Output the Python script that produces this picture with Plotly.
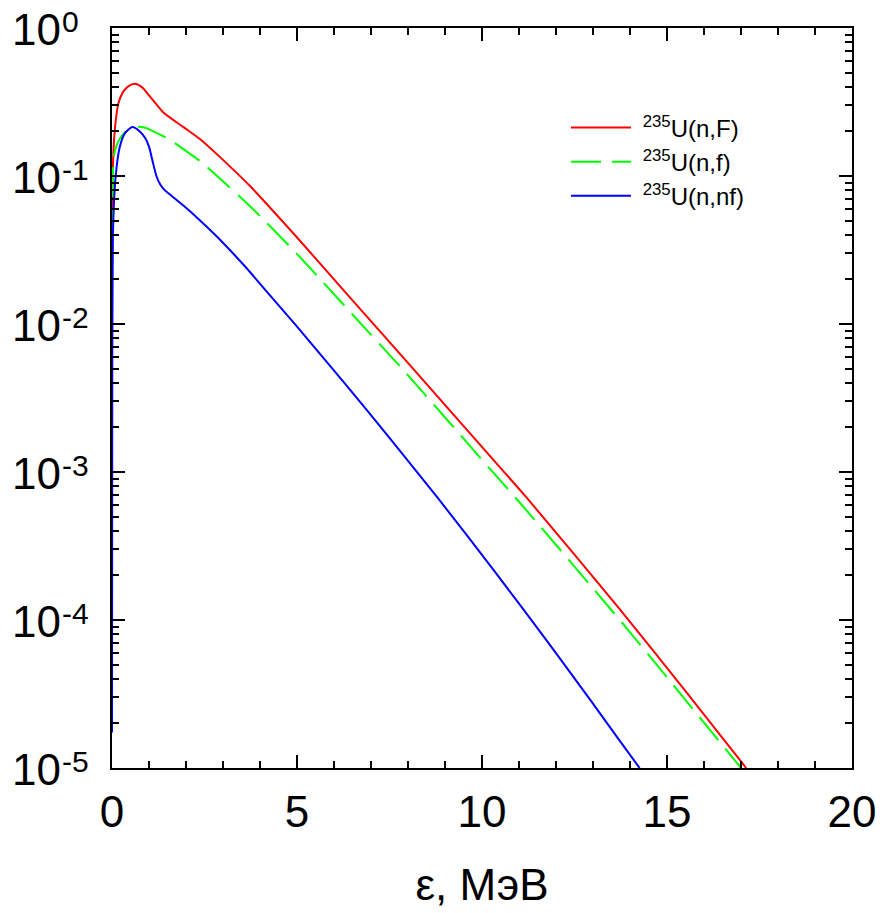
import math
import plotly.graph_objects as go

# Energy (MeV) and spectra
x_F = [0.0, 0.005, 0.03, 0.08, 0.17, 0.3, 0.45, 0.61, 0.8, 1.0, 1.15, 1.38, 1.93, 2.4, 2.84,
       3.73, 4.99, 6.5, 8.04, 10.51, 11.19, 13.7, 15.5, 17.14]
y_F = [2.0e-5, 0.03, 0.128, 0.21, 0.308, 0.37, 0.405, 0.42, 0.40, 0.351, 0.316, 0.270, 0.214,
       0.176, 0.140, 0.0855, 0.0387, 0.01445, 5.31e-3, 1.059e-3, 6.79e-4, 1.202e-4, 3.31e-5,
       1.0e-5]

x_f = [0.0, 0.005, 0.04, 0.1, 0.22, 0.36, 0.5, 0.7, 0.9, 1.02, 1.16, 1.5, 1.93, 2.38, 2.84,
       3.73, 4.99, 6.5, 7.95, 10.24, 10.92, 13.79, 15.5, 17.0]
y_f = [1.8e-5, 0.03, 0.128, 0.155, 0.180, 0.198, 0.209, 0.215, 0.212, 0.206, 0.198, 0.18,
       0.152, 0.126, 0.100, 0.0625, 0.0299, 0.01159, 4.65e-3, 1.033e-3, 6.65e-4, 9.55e-5,
       2.88e-5, 1.0e-5]

x_nf = [0.0, 0.005, 0.03, 0.1, 0.21, 0.35, 0.55, 0.75, 0.9, 1.0, 1.1, 1.2, 1.3, 1.43, 1.6,
        1.93, 2.38, 2.84, 3.3, 3.64, 4.3, 4.99, 6.33, 7.5, 8.81, 10.3, 11.81, 13.0, 13.7, 14.26]
y_nf = [1.74e-5, 0.005, 0.045, 0.10, 0.157, 0.195, 0.214, 0.200, 0.180, 0.158, 0.125, 0.100,
        0.088, 0.080, 0.0738, 0.0631, 0.0501, 0.0389, 0.0295, 0.0238, 0.0153, 0.00966,
        3.87e-3, 1.70e-3, 6.65e-4, 2.20e-4, 6.92e-5, 2.72e-5, 1.556e-5, 1.0e-5]

names = ["\u00a0<sup>235</sup>U(n,F)", "\u00a0<sup>235</sup>U(n,f)", "\u00a0<sup>235</sup>U(n,nf)"]

x_ticks = [0, 5, 10, 15, 20]
x_minor = [v for v in range(0, 21) if v % 5 != 0]
y_ticks = [1e-5, 1e-4, 1e-3, 1e-2, 1e-1, 1]
y_tick_base = "10"
y_tick_exp = ["-5", "-4", "-3", "-2", "-1", "0"]
y_minor = [m * 10.0 ** e for e in range(-5, 0) for m in range(2, 10)]

FONT = "Liberation Sans, Arial"

fig = go.Figure()
fig.add_trace(go.Scatter(x=x_F, y=y_F, mode="lines", name=names[0],
                         line=dict(color="#ff0000", width=2, shape="spline", smoothing=0.6)))
fig.add_trace(go.Scatter(x=x_f, y=y_f, mode="lines", name=names[1],
                         line=dict(color="#00ff00", width=2, dash="30px,11px",
                                   shape="spline", smoothing=0.6)))
fig.add_trace(go.Scatter(x=x_nf, y=y_nf, mode="lines", name=names[2],
                         line=dict(color="#0000ff", width=2, shape="spline", smoothing=0.6)))

axis_common = dict(showline=True, linecolor="black", linewidth=2, mirror="ticks",
                   ticks="inside", ticklen=13, tickwidth=1.5, tickcolor="black",
                   showgrid=False, zeroline=False, automargin=False,
                   ticklabeloverflow="allow",
                   tickfont=dict(family=FONT, size=44, color="black"))

fig.update_xaxes(range=[0, 20], tickvals=x_ticks, ticktext=[str(v) for v in x_ticks],
                 ticklabelstandoff=4,
                 minor=dict(tickvals=x_minor, ticks="inside", ticklen=7, tickwidth=1.5,
                            tickcolor="black", showgrid=False),
                 title=dict(text="ε, МэВ", standoff=34,
                            font=dict(family=FONT, size=44, color="black")),
                 **axis_common)
fig.update_yaxes(type="log", range=[-5, 0], tickvals=y_ticks, showticklabels=False,
                 minor=dict(tickvals=y_minor, ticks="inside", ticklen=7, tickwidth=1.5,
                            tickcolor="black", showgrid=False),
                 **axis_common)

# y tick labels: "10" with a raised exponent, placed at each decade through the y axis
for v, ex in zip(y_ticks, y_tick_exp):
    fig.add_annotation(x=-0.1378, xref="paper", y=math.log10(v), yref="y",
                       text=y_tick_base, showarrow=False, xanchor="left", yanchor="middle",
                       yshift=-1, font=dict(family=FONT, size=44, color="black"))
    fig.add_annotation(x=-0.0703, xref="paper", y=math.log10(v), yref="y",
                       text=ex, showarrow=False, xanchor="left", yanchor="middle",
                       yshift=7, font=dict(family=FONT, size=30, color="black"))

fig.update_layout(
    width=884, height=913,
    margin=dict(l=112, r=32, t=28, b=145),
    plot_bgcolor="white", paper_bgcolor="white",
    showlegend=True,
    legend=dict(x=0.6135, y=0.8955, xanchor="left", yanchor="top",
                bgcolor="rgba(0,0,0,0)", itemwidth=60,
                font=dict(family=FONT, size=24, color="black"),
                tracegroupgap=0),
)

fig.write_html("out.html",
               config={"displayModeBar": False},
               post_script="document.body.style.margin='0';document.body.style.overflow='hidden';")
